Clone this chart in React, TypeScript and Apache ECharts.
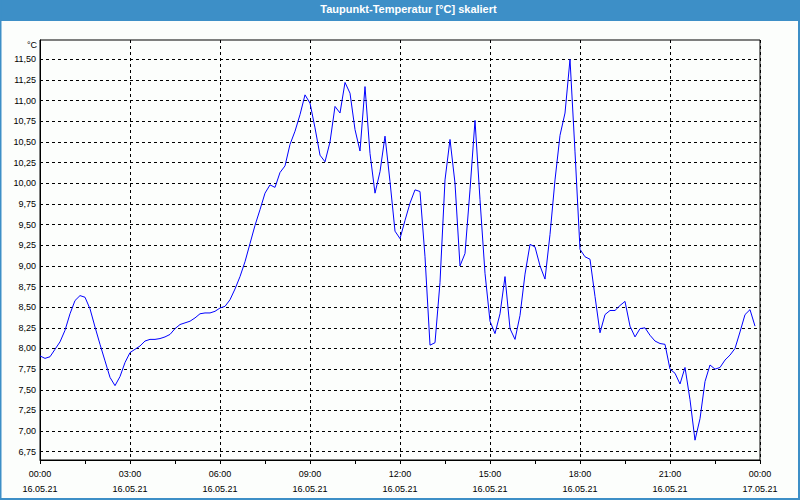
import React, { useEffect, useRef } from "react";
import * as echarts from "echarts";

// 10-minute samples starting 16.05.21 00:00
const sampleMinutes = 10;
const dewPoint: number[] = [
  7.91, 7.88, 7.9, 7.99, 8.08, 8.22, 8.42, 8.58, 8.64, 8.62,
  8.48, 8.26, 8.05, 7.85, 7.65, 7.55, 7.66, 7.83, 7.95, 7.99,
  8.03, 8.09, 8.11, 8.11, 8.12, 8.14, 8.17, 8.24, 8.29, 8.31,
  8.33, 8.37, 8.42, 8.43, 8.43, 8.45, 8.49, 8.51, 8.59, 8.72,
  8.87, 9.05, 9.27, 9.49, 9.68, 9.88, 9.98, 9.95, 10.13, 10.21,
  10.47, 10.63, 10.83, 11.07, 10.97, 10.67, 10.34, 10.26, 10.5, 10.93,
  10.85, 11.22, 11.09, 10.65, 10.39, 11.17, 10.36, 9.88, 10.14, 10.57,
  10.02, 9.42, 9.33, 9.55, 9.76, 9.92, 9.9, 9.11, 8.04, 8.07,
  8.8, 10.04, 10.53, 10.0, 9.0, 9.15, 9.92, 10.76, 9.8, 8.91,
  8.33, 8.18, 8.42, 8.87, 8.24, 8.11, 8.4, 8.9, 9.26, 9.23,
  9.0, 8.84, 9.38, 10.04, 10.58, 10.85, 11.5, 10.38, 9.2, 9.11,
  9.08, 8.63, 8.19, 8.41, 8.46, 8.46, 8.52, 8.57, 8.27, 8.14,
  8.24, 8.25, 8.16, 8.09, 8.06, 8.05, 7.75, 7.7, 7.57, 7.77,
  7.38, 6.89, 7.15, 7.6, 7.8, 7.75, 7.77, 7.86, 7.92, 8.0,
  8.2, 8.41, 8.47, 8.27,
];

const yTicks: number[] = [
  6.75, 7.0, 7.25, 7.5, 7.75, 8.0, 8.25, 8.5, 8.75, 9.0,
  9.25, 9.5, 9.75, 10.0, 10.25, 10.5, 10.75, 11.0, 11.25, 11.5,
];
const xTickMinutes: number[] = [0, 180, 360, 540, 720, 900, 1080, 1260, 1440];
const xTimeLabels: string[] = ["00:00", "03:00", "06:00", "09:00", "12:00", "15:00", "18:00", "21:00", "00:00"];
const xDateLabels: string[] = ["16.05.21", "16.05.21", "16.05.21", "16.05.21", "16.05.21", "16.05.21", "16.05.21", "16.05.21", "17.05.21"];

const title = "Taupunkt-Temperatur [°C] skaliert";
const unit = "°C";

const FONT = "'Liberation Sans', Arial, sans-serif";
const BLUE = "#3d8fc7";
const BG = "#fcfefc";

export default function App() {
  const ref = useRef<HTMLDivElement>(null);
  useEffect(() => {
    if (!ref.current) return;
    const chart = echarts.init(ref.current, null, { renderer: "svg" });
    const data = dewPoint.map((v, i) => [i * sampleMinutes, v]);
    chart.setOption({
      animation: false,
      backgroundColor: BG,
      textStyle: { fontFamily: FONT },
      grid: { left: 40, top: 40, right: 40, bottom: 40, show: true, borderColor: "#000", borderWidth: 1, backgroundColor: "transparent" },
      graphic: [
        { type: "rect", shape: { x: 0, y: 0, width: 800, height: 21 }, style: { fill: BLUE }, silent: true },
        { type: "rect", shape: { x: 0, y: 0, width: 1.5, height: 500 }, style: { fill: BLUE }, silent: true },
        { type: "rect", shape: { x: 798, y: 0, width: 2, height: 500 }, style: { fill: BLUE }, silent: true },
        { type: "rect", shape: { x: 0, y: 498, width: 800, height: 2 }, style: { fill: BLUE }, silent: true },
        {
          type: "text", x: 408.5, y: 9,
          style: { text: title, fill: "#fff", font: `bold 11px ${FONT}`, textAlign: "center", textVerticalAlign: "middle" },
          silent: true,
        },
        {
          type: "text", x: 37, y: 45,
          style: { text: unit, fill: "#000", font: `9px ${FONT}`, textAlign: "right", textVerticalAlign: "middle" },
          silent: true,
        },
      ],
      xAxis: {
        type: "value",
        min: 0,
        max: 1440,
        interval: 180,
        axisLine: { show: true, lineStyle: { color: "#000", width: 1 } },
        axisTick: { show: true, length: 4, inside: false, lineStyle: { color: "#000" } },
        minorTick: { show: true, splitNumber: 2, length: 4, lineStyle: { color: "#000" } },
        splitLine: { show: true, lineStyle: { color: "#000", type: [3, 3], width: 1 } },
        axisLabel: {
          show: true,
          margin: 6,
          color: "#000",
          fontSize: 9,
          fontFamily: FONT,
          lineHeight: 15,
          showMinLabel: true,
          showMaxLabel: true,
          formatter: (v: number) => {
            const i = xTickMinutes.indexOf(v);
            return i >= 0 ? `${xTimeLabels[i]}\n${xDateLabels[i]}` : "";
          },
        },
      },
      yAxis: {
        type: "value",
        min: 6.65,
        max: 11.734,
        axisLine: { show: true, lineStyle: { color: "#000", width: 1 } },
        axisTick: { show: false },
        splitLine: { show: false },
        axisLabel: {
          show: true,
          customValues: yTicks,
          margin: 4,
          color: "#000",
          fontSize: 9,
          fontFamily: FONT,
          formatter: (v: number) => v.toFixed(2).replace(".", ","),
        },
      },
      series: [
        {
          type: "line",
          data: [],
          z: 1,
          silent: true,
          markLine: {
            silent: true,
            symbol: "none",
            label: { show: false },
            lineStyle: { color: "#000", type: [3, 3], width: 1 },
            emphasis: { disabled: true },
            data: yTicks.map((v) => ({ yAxis: v })),
          },
        },
        {
          type: "line",
          data,
          z: 5,
          showSymbol: false,
          symbol: "none",
          lineStyle: { color: "#0000ff", width: 1 },
          itemStyle: { color: "#0000ff" },
          silent: true,
        },
      ],
    });
    return () => chart.dispose();
  }, []);
  return (
    <div style={{ position: "absolute", left: 0, top: 0, width: 800, height: 500 }}>
      <div ref={ref} style={{ width: 800, height: 500 }} />
    </div>
  );
}
